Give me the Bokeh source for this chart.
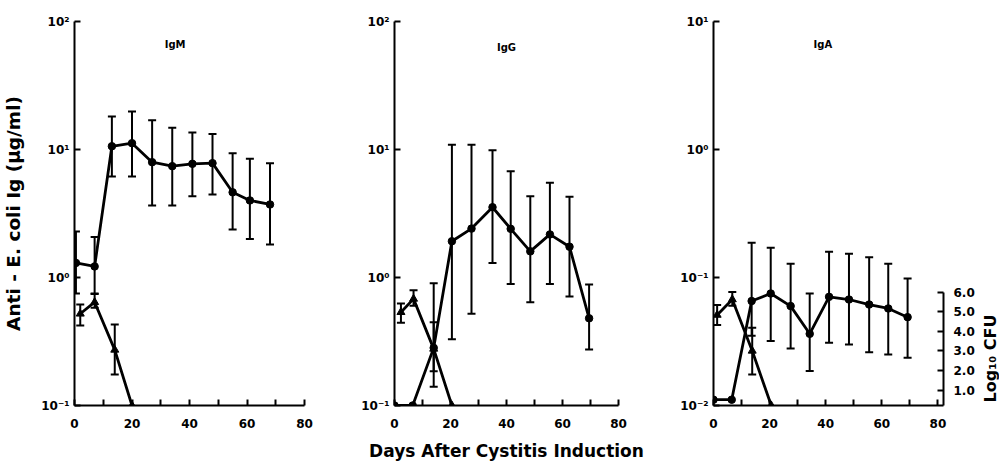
import math
from bokeh.plotting import figure
from bokeh.models import (ColumnDataSource, Whisker, TeeHead, Range1d, LinearAxis, LinearScale,
                          FixedTicker, CustomJSTickFormatter, PrintfTickFormatter, Label)
from bokeh.layouts import row
from bokeh.embed import file_html
from bokeh.resources import INLINE

FONT = "DejaVu Sans"

# ---------------- data ----------------
# IgM panel (circles: antibody, triangles: log10 CFU)
igm_days = [0.5, 7, 13, 20, 27, 34, 41, 48, 55, 61, 68]
igm_mean = [1.30, 1.22, 10.6, 11.2, 7.96, 7.41, 7.73, 7.82, 4.63, 4.0, 3.72]
igm_hi = [2.29, 2.07, 18.1, 19.8, 16.9, 14.8, 13.6, 13.2, 9.35, 8.45, 7.82]
igm_lo = [0.75, 0.75, 6.15, 6.15, 3.65, 3.65, 4.32, 4.45, 2.37, 2.0, 1.81]
cfu_m_days = [2, 7, 14, 20]
cfu_m = [4.89, 5.48, 3.05, 0.21]
cfu_m_hi = [5.36, 5.9, 4.34, None]
cfu_m_lo = [4.29, 5.2, 1.79, None]

# IgG panel
igg_days = [0, 6.5, 14, 20.5, 27.5, 35, 41.5, 48.5, 55.5, 62.5, 69.5]
igg_mean = [0.1, 0.1, 0.282, 1.92, 2.41, 3.54, 2.40, 1.60, 2.17, 1.74, 0.48]
igg_hi = [None, None, 0.90, 10.9, 10.9, 9.86, 6.76, 4.31, 5.50, 4.27, 0.88]
igg_lo = [None, None, 0.14, 0.33, 0.52, 1.30, 0.89, 0.64, 0.89, 0.71, 0.274]
cfu_g_days = [2.3, 6.8, 14, 20.5]
cfu_g = [4.97, 5.65, 3.1, 0.21]
cfu_g_hi = [5.41, 6.09, 4.46, None]
cfu_g_lo = [4.43, 5.3, 1.96, None]

# IgA panel
iga_days = [0, 6.5, 13.6, 20.4, 27.5, 34.3, 41.2, 48.3, 55.5, 62.3, 69.2]
iga_mean = [0.0111, 0.0111, 0.0655, 0.075, 0.0598, 0.0363, 0.0706, 0.0673, 0.0615, 0.0573, 0.049]
iga_hi = [None, None, 0.187, 0.171, 0.128, 0.075, 0.159, 0.153, 0.144, 0.128, 0.098]
iga_lo = [None, None, 0.035, 0.0319, 0.0279, 0.0186, 0.0309, 0.030, 0.0261, 0.025, 0.0236]
cfu_a_days = [1.3, 6.7, 13.8, 20.6]
cfu_a = [4.83, 5.62, 3.0, 0.21]
cfu_a_hi = [5.34, 6.0, 4.18, None]
cfu_a_lo = [4.32, 5.3, 1.79, None]

x_ticks = [0, 20, 40, 60, 80]
x_minor = [10, 30, 50, 70]
log_tick_values = [0.01, 0.1, 1, 10, 100]
log_tick_labels = ["10⁻²", "10⁻¹", "10⁰", "10¹", "10²"]
cfu_ticks = [1, 2, 3, 4, 5, 6]

panel_titles = ["IgM", "IgG", "IgA"]
y_label = "Anti - E. coli Ig (μg/ml)"
x_label = "Days After Cystitis Induction"
cfu_label = "Log₁₀ CFU"

CFU_START = 0.21
CFU_PX = 19.6  # pixels per log10 CFU unit
FRAME_H = 384
FIG_H = 458


def err_source(days, hi, lo):
    xs, his, los = [], [], []
    for d, h, l in zip(days, hi, lo):
        if h is not None:
            xs.append(d); his.append(h); los.append(l)
    return ColumnDataSource(dict(x=xs, hi=his, lo=los))


def style_axes(p):
    for ax in p.axis:
        ax.axis_line_width = 2
        ax.axis_line_color = "black"
        ax.major_tick_line_width = 2
        ax.major_tick_line_color = "black"
        ax.minor_tick_line_width = 2
        ax.minor_tick_line_color = "black"
        ax.major_tick_in = 6
        ax.major_tick_out = 0
        ax.minor_tick_in = 6
        ax.minor_tick_out = 0
        ax.major_label_text_font = FONT
        ax.major_label_text_font_style = "bold"
        ax.major_label_text_color = "black"
        ax.axis_label_text_font = FONT
        ax.axis_label_text_font_style = "bold"
        ax.axis_label_text_color = "black"


def make_panel(days, mean, hi, lo, cdays, cfu, chi, clo, y0, y1, x1,
               fw, bl, br, bt, title, tx, ty):
    p = figure(frame_width=fw, frame_height=FRAME_H, y_axis_type="log",
               x_range=Range1d(0, x1), y_range=Range1d(y0, y1),
               min_border_left=bl, min_border_right=br, min_border_top=bt,
               min_border_bottom=FIG_H - bt - FRAME_H,
               toolbar_location=None, output_backend="svg",
               background_fill_color="white", border_fill_color="white")
    p.outline_line_color = None
    p.xgrid.visible = False
    p.ygrid.visible = False
    frame_span = FRAME_H / CFU_PX
    p.extra_y_ranges = {"cfu": Range1d(CFU_START, CFU_START + frame_span)}
    p.extra_y_scales = {"cfu": LinearScale()}

    p.xaxis.ticker = FixedTicker(ticks=x_ticks, minor_ticks=x_minor)
    p.xaxis.major_label_standoff = 13
    p.xaxis.major_label_text_font_size = "12px"

    p.yaxis.ticker = FixedTicker(ticks=log_tick_values, minor_ticks=[])
    p.yaxis.formatter = CustomJSTickFormatter(
        args=dict(vals=log_tick_values, labs=log_tick_labels),
        code="""
        for (let i = 0; i < vals.length; i++) {
            if (Math.abs(Math.log10(tick) - Math.log10(vals[i])) < 1e-6) return labs[i];
        }
        return "";
        """)
    p.yaxis.major_label_standoff = 5
    p.yaxis.major_label_text_font_size = "12px"

    # antibody series
    p.line(days, mean, line_width=2.8, line_color="black")
    p.scatter(days, mean, marker="circle", size=7.5, color="black")
    es = err_source(days, hi, lo)
    p.add_layout(Whisker(source=es, base="x", upper="hi", lower="lo",
                         dimension="height", line_width=2, line_color="black",
                         upper_head=TeeHead(size=8, line_width=2, line_color="black"),
                         lower_head=TeeHead(size=8, line_width=2, line_color="black")))
    # CFU series
    p.line(cdays, cfu, line_width=2.8, line_color="black", y_range_name="cfu")
    p.scatter(cdays, cfu, marker="triangle", size=8, color="black", y_range_name="cfu")
    cs = err_source(cdays, chi, clo)
    p.add_layout(Whisker(source=cs, base="x", upper="hi", lower="lo",
                         dimension="height", line_width=2, line_color="black",
                         y_range_name="cfu",
                         upper_head=TeeHead(size=8, line_width=2, line_color="black"),
                         lower_head=TeeHead(size=8, line_width=2, line_color="black")))

    p.add_layout(Label(x=tx, y=ty, text=title, text_align="center",
                       text_baseline="middle", text_font=FONT,
                       text_font_style="bold", text_font_size="10px",
                       text_color="black"))
    return p


p1 = make_panel(igm_days, igm_mean, igm_hi, igm_lo,
                cfu_m_days, cfu_m, cfu_m_hi, cfu_m_lo,
                0.1, 100, 80, 230, 70, 32, 18, panel_titles[0], 35, 10 ** 1.82)
p2 = make_panel(igg_days, igg_mean, igg_hi, igg_lo,
                cfu_g_days, cfu_g, cfu_g_hi, cfu_g_lo,
                0.1, 100, 80, 224, 58, 40, 19, panel_titles[1], 40, 10 ** 1.80)
p3 = make_panel(iga_days, iga_mean, iga_hi, iga_lo,
                cfu_a_days, cfu_a, cfu_a_hi, cfu_a_lo,
                0.01, 10, 82, 230, 55, 36, 21, panel_titles[2], 39, 10 ** 0.82)

p1.yaxis.axis_label = y_label
p1.yaxis.axis_label_text_font_size = "18.5px"
p1.yaxis.axis_label_standoff = 14

p2.xaxis.axis_label = x_label
p2.xaxis.axis_label_text_font_size = "17px"
p2.xaxis.axis_label_standoff = 10

right = LinearAxis(y_range_name="cfu", ticker=FixedTicker(ticks=cfu_ticks, minor_ticks=[]),
                   formatter=PrintfTickFormatter(format="%.1f"), bounds=(CFU_START, 6.0))
p3.add_layout(right, "right")

for p in (p1, p2, p3):
    style_axes(p)

right.major_label_standoff = 10
right.major_label_text_font_size = "12px"

# narrow side figure that carries the "Log10 CFU" label
p4 = figure(frame_width=20, frame_height=FIG_H, x_range=Range1d(0, 20),
            y_range=Range1d(0, FIG_H), min_border=0,
            x_axis_location=None, y_axis_location=None,
            toolbar_location=None, output_backend="svg",
            background_fill_color="white", border_fill_color="white")
p4.outline_line_color = None
p4.xgrid.visible = False
p4.ygrid.visible = False
p4.add_layout(Label(x=11, y=FIG_H - 337, text=cfu_label, angle=math.pi / 2,
                    text_align="center", text_baseline="middle", text_font=FONT,
                    text_font_style="bold", text_font_size="16px", text_color="black"))

layout = row(p1, p2, p3, p4)
open("out.html", "w").write(file_html(layout, INLINE))
